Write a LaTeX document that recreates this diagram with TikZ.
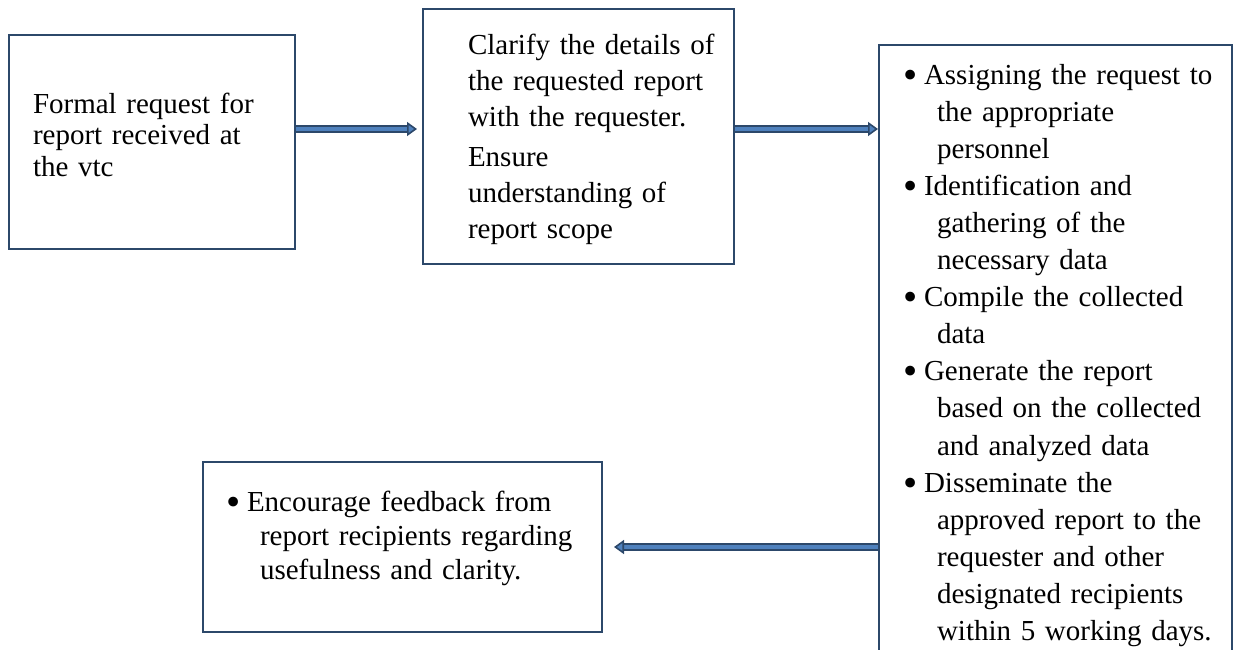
\documentclass[tikz,border=0pt]{standalone}
\usepackage{fontspec}
\setmainfont{Liberation Serif}
\usetikzlibrary{arrows.meta}

\definecolor{boxnavy}{RGB}{44,72,106}
\definecolor{arrowblue}{RGB}{79,129,189}

\newcommand{\bul}{\makebox[10.5pt][l]{\raisebox{-2pt}{\scalebox{1.4}{\textbullet}}}}
\newcommand{\cnt}{\hspace*{17pt}}

\tikzset{
  stage/.style={draw=boxnavy, line width=1pt, anchor=north west, inner xsep=6pt, inner ysep=0pt, align=left},
  pad/.style={execute at begin node={\leftskip=#1}},
  flow/.style={draw=boxnavy, line width=1pt, double=arrowblue, double distance=2pt,
    -{Triangle[length=5pt,width=7pt,fill=arrowblue,line width=0.8pt]}}
}

\begin{document}
\begin{tikzpicture}[x=0.5pt,y=-0.5pt]
\useasboundingbox (0,0) rectangle (1236,649);
\clip (0,0) rectangle (1236,649);

\draw (8,34) node (req) [stage, pad=6pt, text width=131pt, text height=39pt, text depth=68pt,
  font=\fontsize{14.5pt}{15.75pt}\selectfont]
  {Formal request for\\report received at\\the vtc};

\draw (422,8) node (clarify) [stage, pad=16.5pt, text width=143.5pt, text height=22.5pt, text depth=105pt,
  font=\fontsize{14.5pt}{18pt}\selectfont]
  {Clarify the details of\\the requested report\\with the requester.\\[2pt]Ensure\\understanding of\\report scope};

\draw (878,44) node (assign) [stage, pad=6pt, text width=164.5pt, text height=19.5pt, text depth=308.5pt,
  font=\fontsize{14.5pt}{18.55pt}\selectfont]
  {\bul Assigning the request to\\\cnt the appropriate\\\cnt personnel\\
   \bul Identification and\\\cnt gathering of the\\\cnt necessary data\\
   \bul Compile the collected\\\cnt data\\
   \bul Generate the report\\\cnt based on the collected\\\cnt and analyzed data\\
   \bul Disseminate the\\\cnt approved report to the\\\cnt requester and other\\\cnt designated recipients\\\cnt within 5 working days.};

\draw (202,461) node (feedback) [stage, pad=5.5pt, text width=187.5pt, text height=24.5pt, text depth=60.5pt,
  font=\fontsize{14.5pt}{17pt}\selectfont]
  {\bul Encourage feedback from\\\cnt report recipients regarding\\\cnt usefulness and clarity.};

% connectors
\coordinate (a1) at ([yshift=6.5pt]req.east);
\draw[flow, shorten >=2.5pt] (a1) -- (a1 -| clarify.west);

\coordinate (a2) at ([yshift=3.75pt]clarify.east);
\draw[flow] (a2) -- (a2 -| assign.west);

\draw[flow, shorten >=5.5pt] (feedback.east -| assign.west) -- (feedback.east);

\end{tikzpicture}
\end{document}
